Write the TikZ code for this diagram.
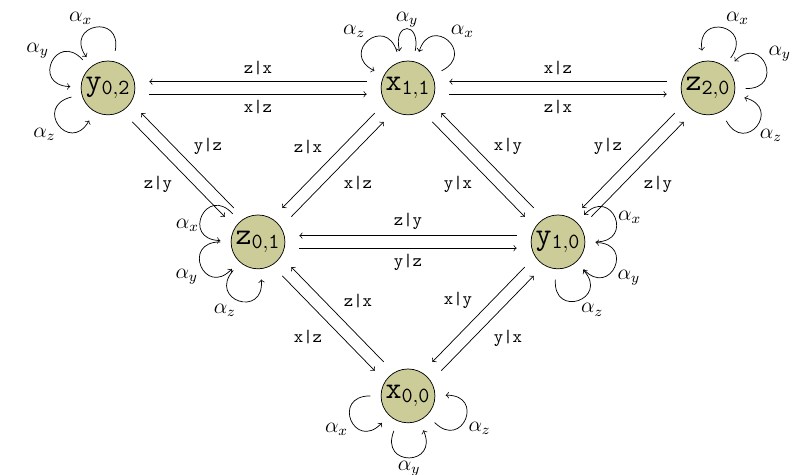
\documentclass[tikz,border=0pt]{standalone}
\usepackage{amsmath}
\usepackage{tikz}
\usetikzlibrary{calc, positioning}
\definecolor{mystate}{HTML}{CCCC99}

\begin{document}
\begin{tikzpicture}[x=2.937cm, y=3.015cm,
		state/.style={circle, draw, fill=mystate, minimum size=30pt, inner sep=0pt, outer sep=6pt, font=\LARGE},
		pair/.style={->, shorten >=23pt, shorten <=23pt},
		lab/.style={font=\ttfamily, auto=right},
		selfloop/.style={->, looseness=1, min distance=22pt},
		alab/.style={pos=.5, inner sep=1.5pt, font=\large}]
	\useasboundingbox (-0.72,-0.513) rectangle (4.66,2.571);
	% states
	\node[state] (y02) at (0,2) {$\mathtt{y_{0,2}}$};
	\node[state] (x11) at (2,2) {$\mathtt{x_{1,1}}$};
	\node[state] (z20) at (4,2) {$\mathtt{z_{2,0}}$};
	\node[state] (z01) at (1,1) {$\mathtt{z_{0,1}}$};
	\node[state] (y10) at (3,1) {$\mathtt{y_{1,0}}$};
	\node[state] (x00) at (2,0) {$\mathtt{x_{0,0}}$};
	% pairs of moves
	\draw[pair] ($(x11)!3.5pt!-90:(y02)$) -- node[lab] {z|x} ($(y02)!3.5pt!90:(x11)$);
	\draw[pair] ($(y02)!3.5pt!-90:(x11)$) -- node[lab] {x|z} ($(x11)!3.5pt!90:(y02)$);
	\draw[pair] ($(z20)!3.5pt!-90:(x11)$) -- node[lab] {x|z} ($(x11)!3.5pt!90:(z20)$);
	\draw[pair] ($(x11)!3.5pt!-90:(z20)$) -- node[lab] {z|x} ($(z20)!3.5pt!90:(x11)$);
	\draw[pair] ($(z01)!3.5pt!-90:(y02)$) -- node[lab] {y|z} ($(y02)!3.5pt!90:(z01)$);
	\draw[pair] ($(y02)!3.5pt!-90:(z01)$) -- node[lab] {z|y} ($(z01)!3.5pt!90:(y02)$);
	\draw[pair] ($(x11)!3.5pt!-90:(z01)$) -- node[lab] {z|x} ($(z01)!3.5pt!90:(x11)$);
	\draw[pair] ($(z01)!3.5pt!-90:(x11)$) -- node[lab] {x|z} ($(x11)!3.5pt!90:(z01)$);
	\draw[pair] ($(y10)!3.5pt!-90:(x11)$) -- node[lab] {x|y} ($(x11)!3.5pt!90:(y10)$);
	\draw[pair] ($(x11)!3.5pt!-90:(y10)$) -- node[lab] {y|x} ($(y10)!3.5pt!90:(x11)$);
	\draw[pair] ($(z20)!3.5pt!-90:(y10)$) -- node[lab] {y|z} ($(y10)!3.5pt!90:(z20)$);
	\draw[pair] ($(y10)!3.5pt!-90:(z20)$) -- node[lab] {z|y} ($(z20)!3.5pt!90:(y10)$);
	\draw[pair] ($(y10)!3.5pt!-90:(z01)$) -- node[lab] {z|y} ($(z01)!3.5pt!90:(y10)$);
	\draw[pair] ($(z01)!3.5pt!-90:(y10)$) -- node[lab] {y|z} ($(y10)!3.5pt!90:(z01)$);
	\draw[pair] ($(x00)!3.5pt!-90:(z01)$) -- node[lab] {z|x} ($(z01)!3.5pt!90:(x00)$);
	\draw[pair] ($(z01)!3.5pt!-90:(x00)$) -- node[lab] {x|z} ($(x00)!3.5pt!90:(z01)$);
	\draw[pair] ($(y10)!3.5pt!-90:(x00)$) -- node[lab] {x|y} ($(x00)!3.5pt!90:(y10)$);
	\draw[pair] ($(x00)!3.5pt!-90:(y10)$) -- node[lab] {y|x} ($(y10)!3.5pt!90:(x00)$);
	% self loops
	\draw[selfloop] (y02) to[out=79, in=125] node[alab, anchor=south east] {$\alpha_x$} (y02);
	\draw[selfloop] (y02) to[out=132, in=178] node[alab, anchor=south east] {$\alpha_y$} (y02);
	\draw[selfloop] (y02) to[out=194, in=240] node[alab, anchor=north east] {$\alpha_z$} (y02);
	\draw[selfloop] (x11) to[out=27, in=73] node[alab, anchor=south west] {$\alpha_x$} (x11);
	\draw[selfloop, min distance=17pt] (x11) to[out=79, in=103] node[alab, anchor=south, inner sep=0.5pt] {$\alpha_y$} (x11);
	\draw[selfloop] (x11) to[out=107, in=153] node[alab, anchor=south east] {$\alpha_z$} (x11);
	\draw[selfloop] (z20) to[out=53, in=99] node[alab, anchor=south west] {$\alpha_x$} (z20);
	\draw[selfloop] (z20) to[out=-1, in=45] node[alab, anchor=south west] {$\alpha_y$} (z20);
	\draw[selfloop] (z20) to[out=299, in=345] node[alab, anchor=north west] {$\alpha_z$} (z20);
	\draw[selfloop] (z01) to[out=132, in=178] node[alab, anchor=north east] {$\alpha_x$} (z01);
	\draw[selfloop] (z01) to[out=180, in=226] node[alab, anchor=north east] {$\alpha_y$} (z01);
	\draw[selfloop] (z01) to[out=229, in=275] node[alab, anchor=north east] {$\alpha_z$} (z01);
	\draw[selfloop] (y10) to[out=0, in=46] node[alab, anchor=west] {$\alpha_x$} (y10);
	\draw[selfloop] (y10) to[out=313, in=359] node[alab, anchor=north west] {$\alpha_y$} (y10);
	\draw[selfloop] (y10) to[out=266, in=312] node[alab, anchor=north west] {$\alpha_z$} (y10);
	\draw[selfloop] (x00) to[out=180, in=226] node[alab, anchor=north east] {$\alpha_x$} (x00);
	\draw[selfloop] (x00) to[out=248, in=294] node[alab, anchor=north] {$\alpha_y$} (x00);
	\draw[selfloop] (x00) to[out=315, in=361] node[alab, anchor=north west] {$\alpha_z$} (x00);
\end{tikzpicture}
\end{document}
